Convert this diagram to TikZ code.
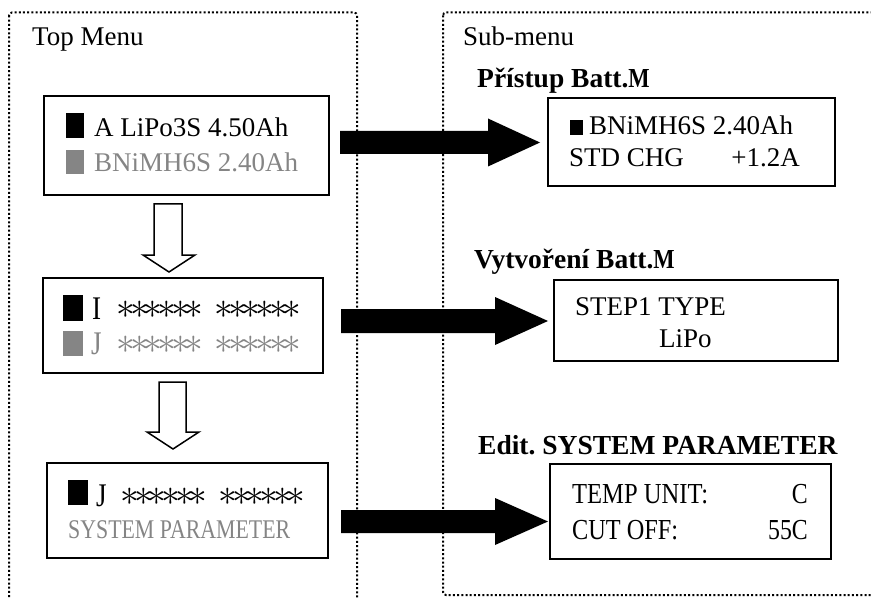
\documentclass[tikz,border=0pt]{standalone}
\usepackage{fontspec}
\setmainfont{Liberation Serif}
\newfontfamily\minch[FakeStretch=0.82]{Liberation Serif}
\usepackage{graphicx}
\definecolor{lcdgray}{HTML}{858585}
\newcommand\starcell{\makebox[13.6pt]{\scalebox{1.5}{$\ast$}}}
\newcommand\sixstars{\starcell\starcell\starcell\starcell\starcell\starcell}
\frenchspacing
\begin{document}
\begin{tikzpicture}[x=1pt,y=-1pt,
  frame/.style={line width=2pt, dash pattern=on 2pt off 2.2pt, rounded corners=3pt},
  lcd/.style={draw, line width=1.6pt, inner sep=0pt, fill=white},
  txt/.style={anchor=base west, inner sep=0pt, font=\fontsize{27pt}{32pt}\selectfont},
  txtr/.style={anchor=base east, inner sep=0pt, font=\fontsize{27pt}{32pt}\selectfont},
  head/.style={anchor=base west, inner sep=0pt, font=\fontsize{27.5pt}{32pt}\selectfont\bfseries},
  mono/.style={anchor=base west, inner sep=0pt, font=\fontsize{29pt}{32pt}\selectfont\minch},
  monor/.style={anchor=base east, inner sep=0pt, font=\fontsize{29pt}{32pt}\selectfont\minch},
  letter/.style={anchor=base west, inner sep=0pt, font=\fontsize{33pt}{36pt}\selectfont\minch},
  hollow/.style={draw, line width=1.5pt, fill=white, line join=miter}]
\useasboundingbox (0,0) rectangle (871,599);
\clip (0,0) rectangle (871,599);

% dotted frames
\draw[frame] (9,12.5) rectangle (357,640);
\draw[frame] (443,12.5) rectangle (900,595);

\node[txt] (tm) at (32,46) {Top Menu};
\node[txt] (sm) at (463,46) {Sub-menu};

% left boxes
\node[lcd, minimum width=285pt, minimum height=99pt] (b1) at (186.5,145.5) {};
\node[lcd, minimum width=280pt, minimum height=95pt] (b2) at (183,325.5) {};
\node[lcd, minimum width=281pt, minimum height=95pt] (b3) at (187.5,510.5) {};

% right boxes
\node[lcd, minimum width=287pt, minimum height=88pt] (bA) at (691.5,142) {};
\node[lcd, minimum width=284pt, minimum height=81pt] (bB) at (696,320.5) {};
\node[lcd, minimum width=281pt, minimum height=95pt] (bC) at (690.5,511.5) {};

% box 1 content
\fill (66,113) rectangle (84,138);
\node[txt] (b1l1) at (94,137) {A LiPo3S 4.50Ah};
\fill[lcdgray] (66,150) rectangle (84,174);
\node[txt, text=lcdgray] (b1l2) at (94,172) {BNiMH6S 2.40Ah};

% box 2 content
\fill (63,295) rectangle (83,321);
\node[letter] (b2i) at (92,319) {I};
\node[txt] (b2s1) at (119,318) {\sixstars};
\node[txt] (b2s2) at (217,318) {\sixstars};
\fill[lcdgray] (63,331) rectangle (83,356);
\node[letter, text=lcdgray] (b2j) at (91,354) {J};
\node[txt, text=lcdgray] (b2s3) at (119,353) {\sixstars};
\node[txt, text=lcdgray] (b2s4) at (217,353) {\sixstars};

% box 3 content
\fill (68,480) rectangle (88,505);
\node[letter] (b3j) at (96,506) {J};
\node[txt] (b3s1) at (123,505) {\sixstars};
\node[txt] (b3s2) at (221,505) {\sixstars};
\node[txt, text=lcdgray] (b3l2) at (68,538) {\resizebox{222pt}{\height}{SYSTEM PARAMETER}};

% headings
\node[head] (hA) at (477,88) {Přístup Batt.{\minch M}};
\node[head] (hB) at (474,268) {Vytvoření Batt.{\minch M}};
\node[head] (hC) at (478,454) {Edit. SYSTEM PARAMETER};

% box A content
\fill (570,120) rectangle (583,135);
\node[txt] (bAl1) at (589,135) {BNiMH6S 2.40Ah};
\node[txt] (bAl2) at (569,167) {STD CHG};
\node[txtr] (bAv) at (800,167) {+1.2A};

% box B content
\node[txt] (bBl1) at (575,315) {STEP1 TYPE};
\node[txt] (bBl2) at (659,347) {LiPo};

% box C content
\node[mono] (bCl1) at (572,503) {\resizebox{136pt}{\height}{TEMP UNIT:}};
\node[monor] (bCv1) at (808,503) {C};
\node[mono] (bCl2) at (572,539) {\resizebox{106pt}{\height}{CUT OFF:}};
\node[monor] (bCv2) at (808,539) {55C};

% hollow down arrows
\draw[hollow] (154,204) -- (182,204) -- (182,255) -- (195,255) -- (169,272) -- (143,255) -- (154,255) -- cycle;
\draw[hollow] (159,382) -- (186,382) -- (186,432) -- (199,432) -- (173,449) -- (147,432) -- (159,432) -- cycle;

% thick block arrows
\fill (340,131) -- (488,131) -- (488,118.5) -- (540,142.5) -- (488,166.5) -- (488,154) -- (340,154) -- cycle;
\fill (341,309) -- (495,309) -- (495,297) -- (548,321) -- (495,345) -- (495,333) -- (341,333) -- cycle;
\fill (341,510) -- (495,510) -- (495,498) -- (548,521.5) -- (495,545) -- (495,533) -- (341,533) -- cycle;
\end{tikzpicture}
\end{document}
